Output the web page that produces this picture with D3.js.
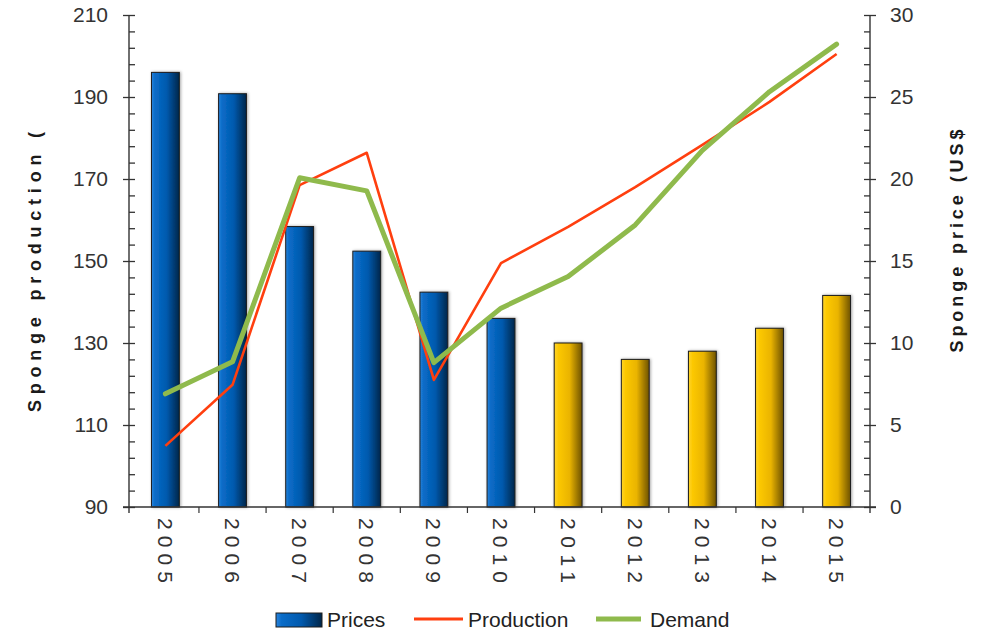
<!DOCTYPE html>
<html>
<head>
<meta charset="utf-8">
<title>Sponge production and price</title>
<script src="https://d3js.org/d3.v7.min.js"></script>
<style>
  body { margin: 0; background: #fff; }
  text { font-family: "Liberation Sans", Arial, sans-serif; }
</style>
</head>
<body>
<div id="chart"></div>
<script>
// data
let years = ["2005", "2006", "2007", "2008", "2009", "2010", "2011", "2012", "2013", "2014", "2015"];
let prices = [26.5, 25.2, 17.1, 15.6, 13.1, 11.5, 10.0, 9.0, 9.5, 10.9, 12.9];      // US$, right axis
let production = [104.9, 119.8, 168.5, 176.4, 121.0, 149.5, 158.3, 168.0, 178.3, 188.8, 200.5];
let demand = [117.6, 125.4, 170.3, 167.1, 125.2, 138.5, 146.2, 158.8, 177.0, 191.3, 202.9];
let forecastFrom = "2011";
let leftTicks = [90, 110, 130, 150, 170, 190, 210];
let rightTicks = [0, 5, 10, 15, 20, 25, 30];

let W = 990, H = 632;
let axL = 129, axR = 870, plotTop = 15, plotBottom = 507;

let svg = d3.select("#chart").append("svg")
    .attr("width", W).attr("height", H);

let defs = svg.append("defs");
function grad(id, stops) {
    let g = defs.append("linearGradient").attr("id", id)
        .attr("x1", "0%").attr("x2", "100%").attr("y1", "0%").attr("y2", "0%");
    stops.forEach(s => g.append("stop").attr("offset", s[0]).attr("stop-color", s[1]));
}
grad("gBlue", [["0%", "#2a84dc"], ["12%", "#0a6cc8"], ["55%", "#0059ad"], ["100%", "#00264a"]]);
grad("gGold", [["0%", "#ffd42a"], ["15%", "#fcc800"], ["55%", "#eab400"], ["100%", "#6e5200"]]);
let f = defs.append("filter").attr("id", "shadow").attr("x", "-30%").attr("y", "-10%")
    .attr("width", "160%").attr("height", "120%");
f.append("feDropShadow").attr("dx", 1).attr("dy", 0).attr("stdDeviation", 1.6)
    .attr("flood-color", "#000").attr("flood-opacity", 0.35);

let x = d3.scaleBand().domain(years).range([132, axR]).paddingInner(0.585).paddingOuter(0.29);
let yL = d3.scaleLinear().domain([90, 210]).range([plotBottom, plotTop]);
let yR = d3.scaleLinear().domain([0, 30]).range([plotBottom, plotTop]);
let cx = d => x(d) + x.bandwidth() / 2;

// bars
svg.append("g").selectAll("rect")
    .data(years)
    .enter().append("rect")
    .attr("x", d => x(d))
    .attr("width", x.bandwidth())
    .attr("y", (d, i) => yR(prices[i]))
    .attr("height", (d, i) => plotBottom - yR(prices[i]))
    .attr("fill", d => d >= forecastFrom ? "url(#gGold)" : "url(#gBlue)")
    .attr("stroke", "#1c1c1c")
    .attr("stroke-width", 1)
    .attr("filter", "url(#shadow)");

// lines
let lineL = d3.line().x(d => cx(d[0])).y(d => yL(d[1]));
svg.append("path")
    .datum(years.map((y, i) => [y, production[i]]))
    .attr("d", lineL)
    .attr("fill", "none")
    .attr("stroke", "#ff3f0f")
    .attr("stroke-width", 2.6)
    .attr("stroke-linejoin", "round");
svg.append("path")
    .datum(years.map((y, i) => [y, demand[i]]))
    .attr("d", lineL)
    .attr("fill", "none")
    .attr("stroke", "#8fba4c")
    .attr("stroke-width", 5)
    .attr("stroke-linejoin", "round")
    .attr("stroke-linecap", "round");

// axes
function styleAxis(g) {
    g.select(".domain").remove();
    g.selectAll("line").attr("stroke", "#333").attr("stroke-width", 1.3);
    g.selectAll("text").attr("fill", "#333").attr("font-size", "21px")
        .attr("font-family", "'Liberation Sans', Arial, sans-serif");
}
// left
svg.append("g").attr("transform", "translate(" + axL + ",0)")
    .call(d3.axisLeft(yL).tickValues(d3.range(90, 211, 4)).tickSize(-6).tickFormat(""))
    .call(styleAxis);
svg.append("g").attr("transform", "translate(" + axL + ",0)")
    .call(d3.axisLeft(yL).tickValues(leftTicks).tickSize(6).tickPadding(15))
    .call(styleAxis);
// right
svg.append("g").attr("transform", "translate(" + axR + ",0)")
    .call(d3.axisRight(yR).tickValues(d3.range(0, 30.5, 1)).tickSize(-6).tickFormat(""))
    .call(styleAxis);
svg.append("g").attr("transform", "translate(" + axR + ",0)")
    .call(d3.axisRight(yR).tickValues(rightTicks).tickSize(6).tickPadding(14))
    .call(styleAxis);
// axis lines
svg.append("line").attr("x1", axL).attr("x2", axL).attr("y1", plotTop).attr("y2", plotBottom + 6)
    .attr("stroke", "#333").attr("stroke-width", 1.4);
svg.append("line").attr("x1", axR).attr("x2", axR).attr("y1", plotTop).attr("y2", plotBottom + 6)
    .attr("stroke", "#333").attr("stroke-width", 1.4);
svg.append("line").attr("x1", axL - 6).attr("x2", axR + 6).attr("y1", plotBottom).attr("y2", plotBottom)
    .attr("stroke", "#333").attr("stroke-width", 1.4);

// x ticks at category boundaries
let step = x.step();
svg.append("g").selectAll("line")
    .data(years.slice(1))
    .enter().append("line")
    .attr("x1", d => cx(d) - step / 2).attr("x2", d => cx(d) - step / 2)
    .attr("y1", plotBottom).attr("y2", plotBottom + 6)
    .attr("stroke", "#333").attr("stroke-width", 1.2);

// year labels, rotated
svg.append("g").selectAll("text")
    .data(years)
    .enter().append("text")
    .attr("transform", d => "translate(" + cx(d) + "," + 518 + ") rotate(90)")
    .attr("dy", "0.36em")
    .attr("font-size", "21px")
    .attr("fill", "#333")
    .attr("textLength", 65)
    .attr("lengthAdjust", "spacing")
    .text(d => d);

// axis titles
svg.append("text")
    .attr("transform", "translate(35,272) rotate(-90)")
    .attr("text-anchor", "middle")
    .attr("dy", "0.35em")
    .attr("font-size", "18px").attr("font-weight", "bold").attr("fill", "#1a1a1a")
    .attr("textLength", 280).attr("lengthAdjust", "spacing")
    .text("Sponge production (");
svg.append("text")
    .attr("transform", "translate(957,241) rotate(-90)")
    .attr("text-anchor", "middle")
    .attr("dy", "0.35em")
    .attr("font-size", "18px").attr("font-weight", "bold").attr("fill", "#1a1a1a")
    .attr("textLength", 223).attr("lengthAdjust", "spacing")
    .text("Sponge price (US$");

// legend
let lg = svg.append("g").attr("font-size", "21px").attr("fill", "#222");
lg.append("rect").attr("x", 276).attr("y", 613).attr("width", 46).attr("height", 14)
    .attr("fill", "url(#gBlue)").attr("stroke", "#1c1c1c");
lg.append("text").attr("x", 327).attr("y", 627).text("Prices");
lg.append("line").attr("x1", 414).attr("x2", 463).attr("y1", 619).attr("y2", 619)
    .attr("stroke", "#ff3f0f").attr("stroke-width", 3);
lg.append("text").attr("x", 468).attr("y", 627).text("Production");
lg.append("line").attr("x1", 596).attr("x2", 641).attr("y1", 619).attr("y2", 619)
    .attr("stroke", "#8fba4c").attr("stroke-width", 5);
lg.append("text").attr("x", 650).attr("y", 627).text("Demand");
</script>
</body>
</html>
